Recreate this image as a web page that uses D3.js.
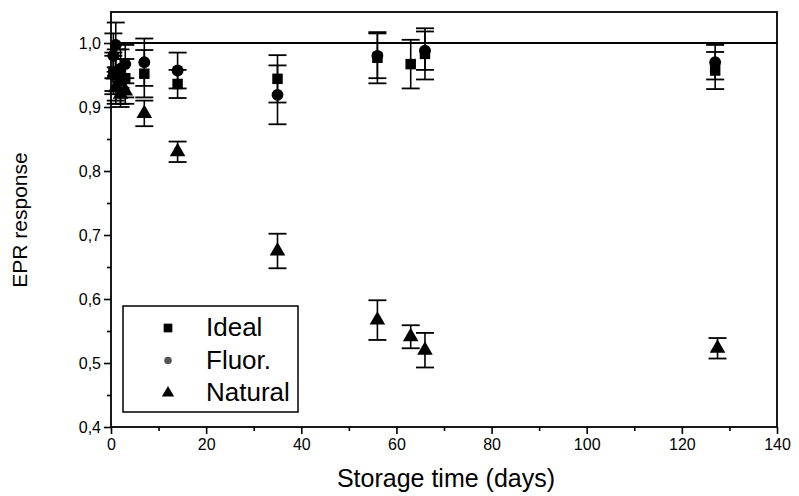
<!DOCTYPE html>
<html>
<head>
<meta charset="utf-8">
<script src="https://cdn.jsdelivr.net/npm/d3@7"></script>
<style>
  body { margin: 0; background: white; }
</style>
</head>
<body>
<div id="chart"></div>
<script>

// storage time (days) and EPR response for each sample type
var ideal_days = [0.5, 1, 2, 3, 7, 14, 35, 56, 63, 66, 127];
var ideal_vals = [0.955, 0.95, 0.94, 0.945, 0.952, 0.936, 0.944, 0.977, 0.967, 0.983, 0.957];
var ideal_err  = [0.03, 0.04, 0.035, 0.03, 0.037, 0.022, 0.037, 0.04, 0.038, 0.04, 0.029];

var fluor_days = [0.5, 1, 2, 3, 7, 14, 35, 56, 66, 127];
var fluor_vals = [0.98, 0.997, 0.96, 0.967, 0.97, 0.957, 0.919, 0.98, 0.988, 0.97];
var fluor_err  = [0.035, 0.035, 0.03, 0.03, 0.037, 0.028, 0.046, 0.035, 0.03, 0.027];

var natural_days = [0.5, 1, 2, 3, 7, 14, 35, 56, 63, 66, 127.5];
var natural_vals = [0.95, 0.93, 0.92, 0.925, 0.89, 0.83, 0.675, 0.567, 0.541, 0.52, 0.523];
var natural_err  = [0.03, 0.025, 0.02, 0.02, 0.02, 0.016, 0.027, 0.031, 0.018, 0.027, 0.016];

var x_ticks = [0, 20, 40, 60, 80, 100, 120, 140];
var x_minor = [10, 30, 50, 70, 90, 110, 130];
var y_ticks = [0.4, 0.5, 0.6, 0.7, 0.8, 0.9, 1.0];
var y_minor = [0.45, 0.55, 0.65, 0.75, 0.85, 0.95];
var legend_labels = ["Ideal", "Fluor.", "Natural"];
var ref_level = 1.0; // horizontal reference line

// svg size and plot box (don't call these top/left -- window.top is taken)
var w = 799;
var h = 496;
var box_l = 111, box_r = 777, box_t = 12, box_b = 427;

var font = "'Liberation Sans', Arial, sans-serif";

var svg = d3.select("#chart").append("svg")
    .attr("width", w)
    .attr("height", h);

svg.append("rect").attr("x", 0).attr("y", 0)
    .attr("width", w).attr("height", h).style("fill", "white");

// scales -- 1,0 sits ~31px below the top of the box
var x = d3.scaleLinear().domain([0, 140]).range([box_l, box_r]);
var y = d3.scaleLinear().domain([0.4, 1.0]).range([box_b, 43]);

var comma = function(d) { return d3.format(".1f")(d).replace(".", ","); };

// bottom axis, major + minor ticks pointing out
svg.append("g").attr("transform", "translate(0," + box_b + ")")
    .call(d3.axisBottom(x).tickValues(x_ticks).tickSize(7).tickPadding(5).tickFormat(d3.format("d")));
svg.append("g").attr("transform", "translate(0," + box_b + ")")
    .call(d3.axisBottom(x).tickValues(x_minor).tickSize(4).tickFormat(""));

// left axis
svg.append("g").attr("transform", "translate(" + box_l + ",0)")
    .call(d3.axisLeft(y).tickValues(y_ticks).tickSize(7).tickPadding(3).tickFormat(comma));
svg.append("g").attr("transform", "translate(" + box_l + ",0)")
    .call(d3.axisLeft(y).tickValues(y_minor).tickSize(4).tickFormat(""));

svg.selectAll(".domain").remove();
svg.selectAll(".tick line").attr("stroke", "black").attr("stroke-width", 1.6);
svg.selectAll(".tick text").attr("font-family", font).attr("font-size", 16).attr("fill", "black");

// frame around plot
svg.append("rect")
    .attr("x", box_l).attr("y", box_t)
    .attr("width", box_r - box_l).attr("height", box_b - box_t)
    .style("fill", "none").style("stroke", "black").style("stroke-width", 1.8);

// reference line at 1,0
svg.append("line")
    .attr("x1", box_l).attr("x2", box_r)
    .attr("y1", y(ref_level)).attr("y2", y(ref_level))
    .style("stroke", "black").style("stroke-width", 2);

// axis titles
svg.append("text")
    .attr("x", 446).attr("y", 487)
    .attr("text-anchor", "middle")
    .attr("font-family", font).attr("font-size", 25)
    .text("Storage time (days)");

svg.append("text")
    .attr("transform", "translate(27," + 220 + ") rotate(-90)")
    .attr("text-anchor", "middle")
    .attr("font-family", font).attr("font-size", 21)
    .text("EPR response");

// helper: build rows from arrays
var rows = function(days, vals, err) {
  return days.map(function(d, i) { return { t: d, v: vals[i], e: err[i] }; });
};

var series = [
  { name: "ideal", data: rows(ideal_days, ideal_vals, ideal_err) },
  { name: "fluor", data: rows(fluor_days, fluor_vals, fluor_err) },
  { name: "natural", data: rows(natural_days, natural_vals, natural_err) }
];

var cap = 9; // half width of error bar caps

// draw error bars
series.forEach(function(s) {
  var g = svg.append("g").attr("class", "err " + s.name);
  s.data.forEach(function(p) {
    var cx = x(p.t);
    g.append("line").attr("x1", cx).attr("x2", cx)
        .attr("y1", y(p.v + p.e)).attr("y2", y(p.v - p.e))
        .style("stroke", "black").style("stroke-width", 1.6);
    g.append("line").attr("x1", cx - cap).attr("x2", cx + cap)
        .attr("y1", y(p.v + p.e)).attr("y2", y(p.v + p.e))
        .style("stroke", "black").style("stroke-width", 1.8);
    g.append("line").attr("x1", cx - cap).attr("x2", cx + cap)
        .attr("y1", y(p.v - p.e)).attr("y2", y(p.v - p.e))
        .style("stroke", "black").style("stroke-width", 1.8);
  });
});

// symbol shapes
var sym = {
  ideal: d3.symbol().type(d3.symbolSquare).size(110),
  fluor: d3.symbol().type(d3.symbolCircle).size(110),
  natural: d3.symbol().type(d3.symbolTriangle).size(105)
};

series.forEach(function(s) {
  svg.append("g").attr("class", "pts " + s.name)
    .selectAll("path").data(s.data).enter().append("path")
      .attr("d", sym[s.name])
      .attr("transform", function(p) { return "translate(" + x(p.t) + "," + y(p.v) + ")"; })
      .style("fill", "black");
});

// legend box
var lg = svg.append("g");
lg.append("rect")
    .attr("x", 123).attr("y", 306).attr("width", 175).attr("height", 106)
    .style("fill", "white").style("stroke", "black").style("stroke-width", 1.5);

var leg_sym = [
  d3.symbol().type(d3.symbolSquare).size(75),
  d3.symbol().type(d3.symbolCircle).size(45),
  d3.symbol().type(d3.symbolTriangle).size(65)
];
legend_labels.forEach(function(lab, i) {
  var ly = 328 + i * 32.5;
  lg.append("path").attr("d", leg_sym[i])
      .attr("transform", "translate(168," + ly + ")")
      .style("fill", i == 1 ? "#555" : "black");
  lg.append("text")
      .attr("x", 206).attr("y", ly + 8)
      .attr("font-family", font).attr("font-size", 26)
      .text(lab);
});

</script>
</body>
</html>
